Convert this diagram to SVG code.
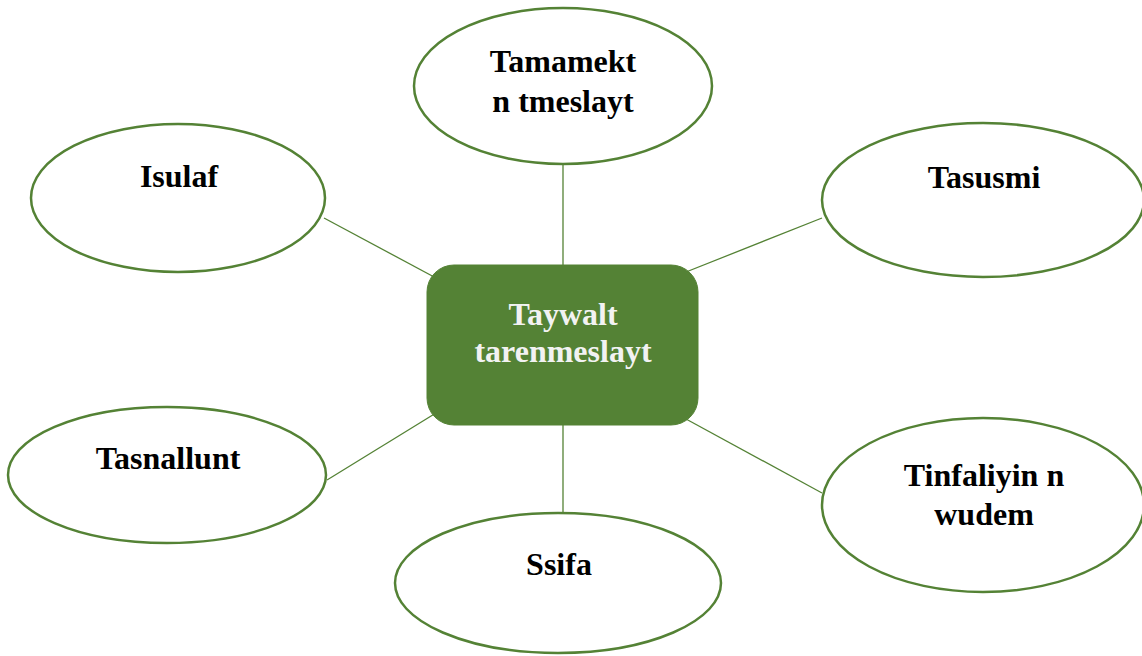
<svg xmlns="http://www.w3.org/2000/svg" width="1142" height="656" viewBox="0 0 1142 656">
<style>
.bg{fill:#ffffff}
.node{fill:#ffffff;stroke:#548235;stroke-width:2.5}
.hub{fill:#548235;stroke:#548235;stroke-width:1}
.lbl{font-family:"Liberation Serif","Times New Roman",serif;font-weight:bold;font-size:32px;fill:#000000;text-anchor:middle}
.hubl{font-family:"Liberation Serif","Times New Roman",serif;font-weight:bold;font-size:32px;fill:#f2f2f2;text-anchor:middle}
.conn line{stroke:#548235;stroke-width:1.3}
</style>
<rect class="bg" x="0" y="0" width="1142" height="656"/>
<g id="connectors" class="conn">
<line x1="563" y1="164" x2="563" y2="266"/>
<line x1="563" y1="425" x2="563" y2="513"/>
<line x1="324" y1="218" x2="436" y2="278"/>
<line x1="822" y1="218" x2="686" y2="272"/>
<line x1="327" y1="480" x2="436" y2="413"/>
<line x1="822" y1="493" x2="686" y2="419"/>
</g>
<g id="hub">
<rect class="hub" x="427" y="265" width="271" height="160" rx="27" ry="27"/>
<text class="hubl" x="563" y="325">Taywalt</text>
<text class="hubl" x="563" y="362">tarenmeslayt</text>
</g>
<g id="node-tamamekt">
<ellipse class="node" cx="563" cy="86" rx="149" ry="78"/>
<text class="lbl" x="563" y="72">Tamamekt</text>
<text class="lbl" x="563" y="112">n tmeslayt</text>
</g>
<g id="node-isulaf">
<ellipse class="node" cx="178" cy="198" rx="147" ry="74"/>
<text class="lbl" x="179" y="187">Isulaf</text>
</g>
<g id="node-tasusmi">
<ellipse class="node" cx="983" cy="200" rx="161" ry="77"/>
<text class="lbl" x="984" y="188">Tasusmi</text>
</g>
<g id="node-tasnallunt">
<ellipse class="node" cx="167" cy="475" rx="159" ry="68"/>
<text class="lbl" x="168" y="469">Tasnallunt</text>
</g>
<g id="node-ssifa">
<ellipse class="node" cx="558" cy="583" rx="163" ry="70"/>
<text class="lbl" x="559" y="575">Ssifa</text>
</g>
<g id="node-tinfaliyin">
<ellipse class="node" cx="983" cy="505" rx="161" ry="87"/>
<text class="lbl" x="984" y="486">Tinfaliyin n</text>
<text class="lbl" x="984" y="525">wudem</text>
</g>
</svg>
